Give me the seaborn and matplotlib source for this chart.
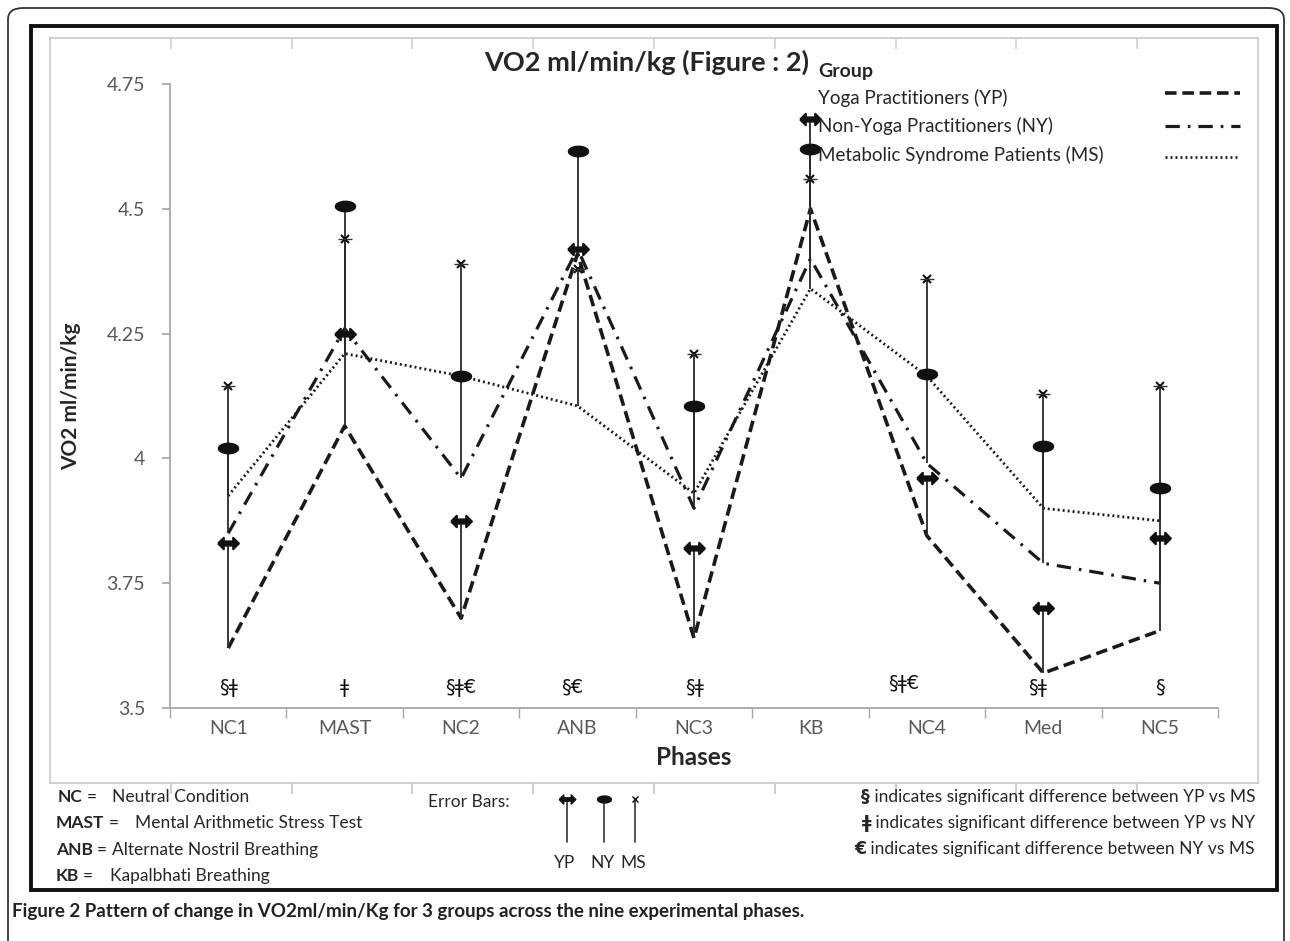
import numpy as np
import pandas as pd
import matplotlib
matplotlib.use("Agg")
import matplotlib.pyplot as plt
import seaborn as sns
from matplotlib.lines import Line2D
from matplotlib.patches import FancyBboxPatch, Rectangle

# data
phases = ["NC1", "MAST", "NC2", "ANB", "NC3", "KB", "NC4", "Med", "NC5"]
yp_mean = [3.62, 4.065, 3.68, 4.41, 3.64, 4.50, 3.845, 3.57, 3.655]
ny_mean = [3.85, 4.26, 3.96, 4.42, 3.90, 4.40, 3.99, 3.79, 3.75]
ms_mean = [3.925, 4.21, 4.165, 4.105, 3.93, 4.34, 4.165, 3.90, 3.875]
# top end of each error bar
yp_top = [3.83, 4.25, 3.875, 4.42, 3.82, 4.68, 3.96, 3.70, 3.84]
ny_top = [4.02, 4.505, 4.165, 4.615, 4.105, 4.62, 4.17, 4.025, 3.94]
ms_top = [4.145, 4.44, 4.39, 4.38, 4.21, 4.56, 4.36, 4.13, 4.145]
sig_labels = ["§ǂ", "ǂ", "§ǂ€", "§€", "§ǂ", "", "§ǂ€", "§ǂ", "§"]
sig_shift = [0, 0, 0, -0.05, 0, 0, -0.2, -0.05, 0]
group_names = ["Yoga Practitioners (YP)", "Non-Yoga Practitioners (NY)",
               "Metabolic Syndrome Patients (MS)"]

W, H = 1290, 941
sns.set_theme(style="white")
plt.rcParams['font.family'] = ['Lato', 'DejaVu Sans']

fig = plt.figure(figsize=(W / 100, H / 100), dpi=100)


def fx(x):
    return x / W


def fy(y):
    return 1 - y / H


# outer rounded frame and inner black frame
fig.patches.append(FancyBboxPatch((fx(8), fy(960)), fx(1276), (960 - 8) / H,
                                  boxstyle="round,pad=0,rounding_size=0.012",
                                  transform=fig.transFigure, fill=False,
                                  edgecolor="#333333", lw=1.3))
fig.patches.append(Rectangle((fx(31), fy(890)), fx(1246), (890 - 26) / H,
                             transform=fig.transFigure, fill=False,
                             edgecolor="#111111", lw=2.8))

# light grey chart-area box behind the plot
bg = fig.add_axes([fx(50), fy(783), fx(1208), (783 - 38) / H])
bg.set_xlim(0, 10)
bg.set_ylim(0, 1)
bg.set_yticks([])
bg.set_xticks(np.arange(1, 10))
bg.tick_params(axis="x", bottom=True, direction="out", length=8,
               color="#c8c8c8", labelbottom=False)
top = bg.secondary_xaxis("top")
top.set_xticks(np.arange(1, 10))
top.tick_params(axis="x", direction="in", length=8, color="#d4d4d4",
                labeltop=False)
top.spines["top"].set_visible(False)
for s in bg.spines.values():
    s.set_color("#c8c8c8")
    s.set_linewidth(1.2)
bg.patch.set_alpha(0)

# main plot
ax = fig.add_axes([fx(170), fy(708), fx(1048), (708 - 84) / H])
ax.patch.set_alpha(0)

df = pd.DataFrame({
    "phase": list(range(9)) * 3,
    "group": ["YP"] * 9 + ["NY"] * 9 + ["MS"] * 9,
    "value": yp_mean + ny_mean + ms_mean,
})
dash_map = {"YP": (3.2, 1.6), "NY": (4.5, 2.5, 0.8, 2.5), "MS": (0.7, 1.1)}
width_map = {"YP": 2.6, "NY": 2.3, "MS": 2.0}
for g in ["YP", "NY", "MS"]:
    sns.lineplot(data=df[df.group == g], x="phase", y="value", ax=ax,
                 color="#1a1a1a", lw=width_map[g], legend=False, zorder=3)
    ax.lines[-1].set_dashes(dash_map[g])

# error bars: line from mean up to cap
yp_marker = [(-1, 0), (-0.45, 0.55), (-0.45, 0.2), (0.45, 0.2), (0.45, 0.55),
             (1, 0), (0.45, -0.55), (0.45, -0.2), (-0.45, -0.2), (-0.45, -0.55),
             (-1, 0)]
t = np.linspace(0, 2 * np.pi, 40)
ny_marker = list(zip(np.cos(t), 0.5 * np.sin(t)))
xs = np.arange(9)
for mean, tops, mk, ms_ in [(yp_mean, yp_top, yp_marker, 15),
                            (ny_mean, ny_top, ny_marker, 14),
                            (ms_mean, ms_top, "x", 6)]:
    ax.vlines(xs, mean, tops, color="#2a2a2a", lw=1.3, zorder=4)
    ax.plot(xs, tops, ls="none", marker=mk, ms=ms_, color="#111111",
            mew=1.5, zorder=5)
ax.plot(xs, ms_top, ls="none", marker="_", ms=10, color="#333333", mew=1.0,
        zorder=5)

for i, s in enumerate(sig_labels):
    ax.text(i + sig_shift[i], 3.542 if i != 6 else 3.55, s, ha="center",
            va="center", fontsize=14, color="#111111",
            family=['DejaVu Sans'])

ax.set_xlim(-0.5, 8.5)
ax.set_ylim(3.5, 4.75)
ax.set_xticks(xs)
ax.set_xticklabels(phases)
ax.set_xticks(np.arange(-0.5, 9, 1), minor=True)
ax.set_yticks([3.5, 3.75, 4, 4.25, 4.5, 4.75])
ax.set_yticklabels(["3.5", "3.75", "4", "4.25", "4.5", "4.75"])
ax.tick_params(axis="x", which="major", length=0, pad=9, labelsize=14,
               labelcolor="#595959")
ax.tick_params(axis="x", which="minor", length=7, direction="out",
               color="#a6a6a6", bottom=True)
ax.tick_params(axis="y", length=6, direction="out", color="#a6a6a6",
               labelsize=14, labelcolor="#595959", pad=12, left=True)
for s in ["top", "right"]:
    ax.spines[s].set_visible(False)
for s in ["left", "bottom"]:
    ax.spines[s].set_color("#a6a6a6")
    ax.spines[s].set_linewidth(1.3)
ax.set_xlabel("Phases", fontsize=17.5, fontweight="bold", labelpad=6)
ax.set_ylabel("VO2 ml/min/kg", fontsize=15, fontweight="bold", labelpad=18)
ax.grid(False)

fig.text(fx(647), fy(62), "VO2 ml/min/kg (Figure : 2)", ha="center",
         va="center", fontsize=19.5, fontweight="bold")

# group legend: text on the left, line sample on the right
fig.text(fx(818), fy(72), "Group", fontsize=14, fontweight="bold",
         va="center")
for g, name, y_txt, y_ln in zip(["YP", "NY", "MS"], group_names,
                                [98, 126, 155], [93, 126, 157]):
    fig.text(fx(818), fy(y_txt), name, fontsize=13.5, va="center")
    fig.add_artist(Line2D([fx(1165), fx(1240)], [fy(y_ln), fy(y_ln)],
                          color="#1a1a1a", lw=width_map[g],
                          dashes=dash_map[g]))

# abbreviations
fig.canvas.draw()
rend = fig.canvas.get_renderer()
abbr = [("NC", "Neutral Condition", 58, 112, 797),
        ("MAST", "Mental Arithmetic Stress Test", 56, 135, 823),
        ("ANB", "Alternate Nostril Breathing", 56, 88, 850),
        ("KB", "Kapalbhati Breathing", 56, 110, 876)]
for b, n, x0, x1, y in abbr:
    tb = fig.text(fx(x0), fy(y), b, fontweight="bold", fontsize=12.5,
                  va="center")
    bb = tb.get_window_extent(renderer=rend)
    te = fig.text((bb.x1 + 4) / W, fy(y), "=", fontsize=12.5, va="center")
    be = te.get_window_extent(renderer=rend)
    fig.text(max(fx(x1), (be.x1 + 5) / W), fy(y), n, fontsize=12.5,
             va="center")

fig.text(fx(428), fy(802), "Error Bars:", fontsize=12.5, va="center")
for x, mk, s, lab in [(567, yp_marker, 12, "YP"), (604, ny_marker, 10, "NY"),
                      (635, "x", 5, "MS")]:
    fig.add_artist(Line2D([fx(x), fx(x)], [fy(842), fy(799)],
                          color="#333333", lw=1.2))
    fig.add_artist(Line2D([fx(x)], [fy(799)], marker=mk, ms=s,
                          color="#111111", ls="none"))
    fig.text(fx(x - 2), fy(863), lab, fontsize=12.5, ha="center",
             va="center")

notes = [("§", " indicates significant difference between YP vs MS", 797),
         ("ǂ", " indicates significant difference between YP vs NY", 823),
         ("€", " indicates significant difference between NY vs MS", 849)]
for sym, txt, y in notes:
    t1 = fig.text(fx(1255), fy(y), txt, fontsize=12.5, ha="right",
                  va="center")
    bb = t1.get_window_extent(renderer=rend)
    fig.text(bb.x0 / W, fy(y), sym, fontsize=12.5, ha="right", va="center",
             fontweight="bold", family=['DejaVu Sans'])

fig.text(fx(12), fy(912),
         "Figure 2 Pattern of change in VO2ml/min/Kg for 3 groups across the "
         "nine experimental phases.", fontsize=13.5, fontweight="bold",
         va="center", color="#222222")

fig.savefig("out.png", dpi=100)
